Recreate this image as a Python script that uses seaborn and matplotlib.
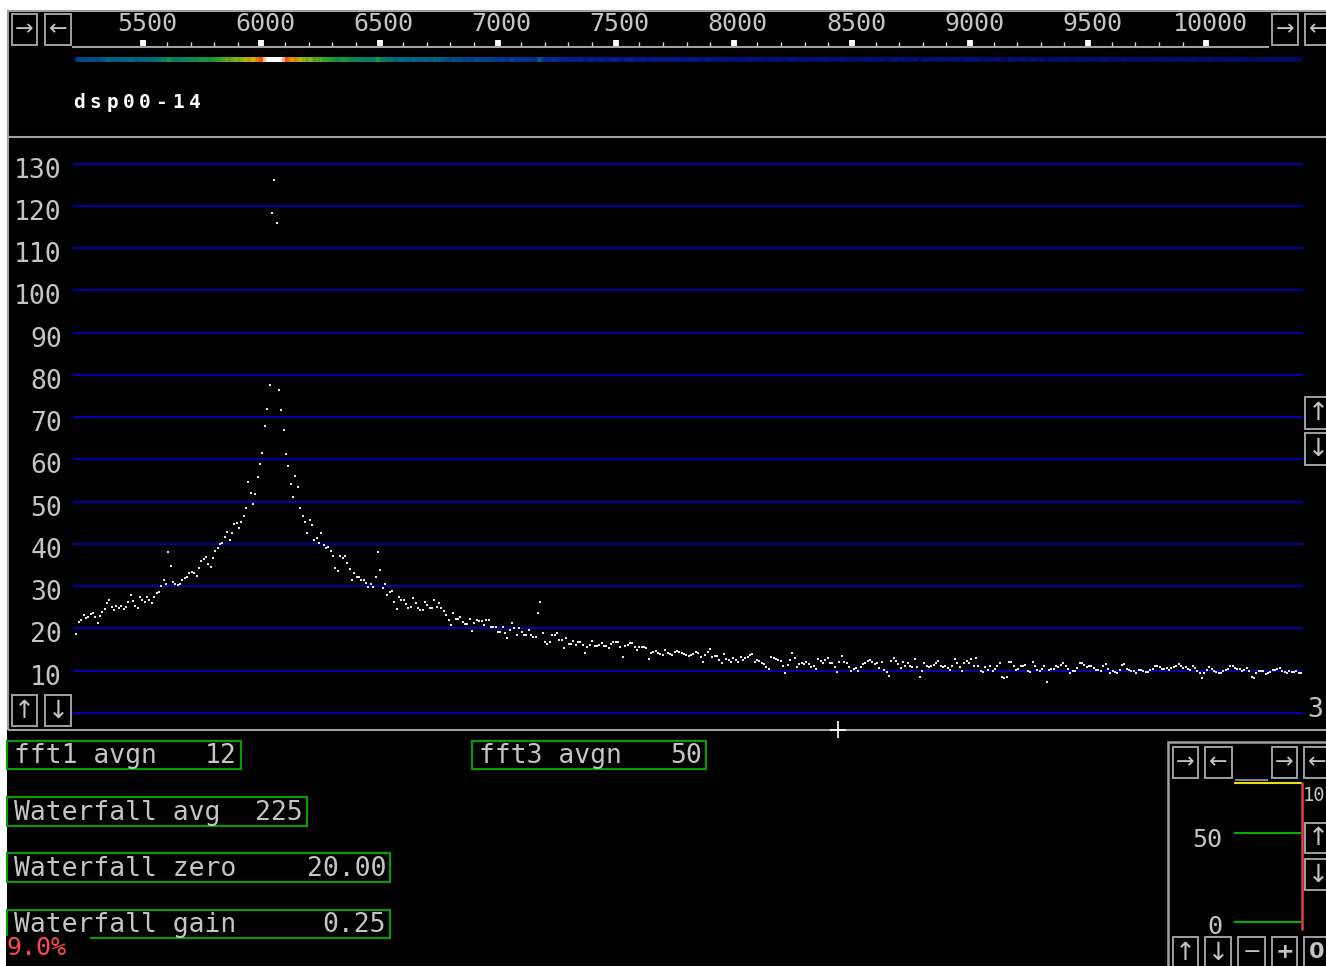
import numpy as np
import matplotlib
matplotlib.use("Agg")
import matplotlib.pyplot as plt
import matplotlib.transforms as mtransforms
from matplotlib.colors import LinearSegmentedColormap, Normalize
from matplotlib.lines import Line2D
from matplotlib.patches import Rectangle
from matplotlib.ticker import FixedLocator
import seaborn as sns

# ---------------------------------------------------------------------------
# Averaged spectrum (fft3), one value per FFT bin, in dB
# ---------------------------------------------------------------------------
BIN0_HZ = 5217.0
BIN_HZ = 9.97

db_lower_band = [
    18.7, 21.5, 22.0, 23.2, 22.4, 22.7, 23.5, 23.6, 22.8, 21.3,
    23.0, 23.9, 24.6, 26.0, 26.7, 25.0, 24.3, 25.2, 24.8, 25.3,
    24.6, 25.0, 26.2, 27.9, 26.5, 25.3, 24.8, 27.4, 26.7, 26.2,
    27.4, 26.8, 26.0, 27.5, 28.3, 28.6, 30.0, 31.4, 30.6, 38.0,
    34.7, 31.0, 30.6, 30.2, 30.4, 31.4, 32.0, 32.2, 33.0, 33.4,
    33.0, 32.3, 34.3, 36.0, 36.4, 37.0, 35.2, 34.5, 36.6, 38.4,
    39.0, 40.0, 40.2, 41.6, 42.8, 40.9, 42.5, 44.6, 45.0, 43.7,
    45.2, 46.5, 48.4, 54.6, 52.0, 49.4, 51.7, 55.8, 58.8, 61.6,
]
db_peak = [67.8, 72.0, 77.7, 118.4, 126.0, 116.0, 76.3, 71.6, 66.9]
db_shoulder = [
    61.2, 58.4, 54.1, 51.0, 56.0, 53.4, 48.4, 46.5, 45.1, 42.5,
    45.6, 44.4, 40.9, 41.5, 40.2, 42.5, 39.7, 39.0, 39.2, 38.3,
    37.1, 34.3, 33.5, 37.1, 36.6, 37.1, 35.4, 34.0, 31.4, 33.1,
    32.1, 32.1, 31.4, 31.4, 30.8, 29.8, 30.5, 29.8, 32.1, 38.0,
    33.8, 29.5, 30.5, 27.9, 28.6, 28.8, 26.2, 24.6, 27.4, 26.7,
    26.7, 25.8, 24.8, 25.0, 27.2, 26.0, 24.8, 24.3, 24.3, 26.2,
    25.5, 24.8, 24.8, 26.7, 25.0, 26.0, 24.8, 24.1, 23.2, 22.0,
    20.8, 23.6, 22.2, 22.2, 22.7, 21.5, 21.0, 21.0, 22.2, 19.4,
    21.3, 22.0, 21.7, 21.7, 20.8, 22.0, 22.0, 20.3, 20.3, 20.3,
    19.1, 19.1, 20.3, 18.9, 17.7, 19.6, 21.3, 20.0, 18.4, 20.0,
    19.2, 18.4, 18.4, 19.6, 18.4, 18.0, 18.0, 23.6, 26.2, 18.9,
    16.8, 16.3, 16.8, 18.4, 18.4, 18.9, 17.2, 17.2, 15.4, 17.7,
    16.3, 16.3, 17.0, 16.1, 16.8, 16.8, 16.1, 14.2, 15.6, 16.1,
    17.0, 15.8, 15.8,
]
db_slope = [
    16.1, 16.5, 15.8, 15.8, 15.4, 16.2, 16.8, 16.8, 16.8, 15.6,
    13.2, 15.8, 16.1, 16.5, 16.5, 15.6, 14.9, 15.6, 15.6, 15.6,
    15.4, 12.8, 14.2, 14.4, 14.6, 14.2, 13.9, 13.7, 14.9, 14.2,
    13.9, 13.7, 14.4, 14.6, 14.4, 14.2, 13.9, 13.7, 13.5, 13.7,
    14.0, 14.4, 14.2, 13.2, 12.0, 13.8, 14.4, 15.1, 13.2, 13.4,
    13.5, 12.6, 11.8, 13.9, 12.8, 12.4, 12.0, 13.0, 12.4, 12.0,
    13.2, 12.5, 13.0, 13.2, 13.6, 13.9, 12.0, 12.5, 12.2, 11.8,
    11.6, 10.9, 10.4, 13.2, 12.9, 12.8, 12.5, 12.3, 11.0, 9.4,
    11.3, 12.5, 14.2, 13.0, 10.9, 11.5, 11.8, 11.5, 12.0, 11.5,
    10.9, 11.2, 10.4, 12.8, 12.3, 11.8, 12.4, 13.0,
]
db_floor = [
    11.7, 11.7, 10.9, 9.6, 12.0, 13.5, 12.0, 11.7, 10.9, 9.9,
    10.4, 10.7, 9.9, 10.9, 11.5, 11.7, 12.3, 12.5, 12.0, 11.5,
    11.7, 10.7, 12.0, 10.2, 9.6, 8.8, 12.3, 13.0, 12.2, 11.5,
    10.7, 12.0, 11.2, 11.7, 11.2, 10.9, 12.7, 10.9, 8.6, 9.9,
    11.7, 11.2, 10.9, 11.0, 11.4, 11.7, 12.3, 11.2, 10.9, 11.2,
    10.7, 10.2, 11.2, 12.7, 11.7, 10.9, 9.9, 11.7, 12.3, 11.9,
    12.7, 11.2, 13.0, 11.2, 9.9, 9.6, 10.9, 10.2, 11.2, 9.9,
    10.5, 11.2, 11.7, 8.6, 8.2, 8.5, 12.0, 12.0, 11.2, 10.2,
    10.4, 11.2, 11.2, 11.4, 9.9, 9.6, 12.0, 11.2, 10.2, 9.9,
    10.4, 11.0, 7.3, 10.2, 10.4, 10.4, 11.2, 10.9, 11.4, 11.7,
    11.2, 10.5, 9.4, 9.9, 9.9, 10.6, 11.7, 11.7, 11.4, 10.9,
    11.2, 11.0, 10.7, 10.2, 10.1, 9.9, 11.2, 11.6, 10.4, 9.4,
    9.8, 9.6, 9.5, 10.1, 11.4, 11.5, 10.5, 10.2, 9.9, 9.8,
    9.4, 10.2, 10.2, 9.8, 9.6, 9.7, 10.1, 10.5, 11.0, 11.1,
    10.9, 10.4, 10.5, 10.6, 10.2, 10.7, 10.9, 11.2, 11.5, 11.0,
    10.7, 10.9, 10.5, 10.1, 11.2, 10.6, 9.9, 9.4, 8.3, 9.4,
    10.1, 10.9, 10.4, 10.0, 9.7, 9.4, 9.5, 9.8, 10.1, 10.4,
    11.0, 11.1, 10.6, 10.4, 10.4, 10.0, 10.2, 10.6, 9.8, 8.6,
    8.2, 9.4, 10.0, 9.9, 9.8, 9.2, 9.5, 9.7, 10.1, 10.1,
    10.5, 10.6, 9.9, 9.6, 9.4, 9.8, 9.6, 9.6, 9.8, 9.4, 9.5,
]

# frequency scale and level grid
scale_major_hz = list(range(5500, 10001, 500))
scale_minor_hz = [f for f in range(5600, 10000, 100) if f % 500]
db_levels = list(range(0, 131, 10))

# parameter read-outs
param_labels = ["fft1 avgn", "fft3 avgn", "Waterfall avg", "Waterfall zero", "Waterfall gain"]
param_values = ["12", "50", "225", "20.00", "0.25"]
cpu_load = "9.0%"
device_name = "dsp00-14"

# small meter panel
meter_labels = ["10", "50", "0"]

db = np.array(db_lower_band + db_peak + db_shoulder + db_slope + db_floor)
freq = BIN0_HZ + BIN_HZ * np.arange(len(db))

# ---------------------------------------------------------------------------
# Figure geometry (pixel based, 100 dpi)
# ---------------------------------------------------------------------------
W, H = 1326, 966
PX_PER_HZ = 0.2362
X_5500 = 143.3
Y_ZERO_PX = 712.9
PX_PER_DB = 4.226

GRAY = "#a0a0a0"
TEXT_GRAY = "#c4c4c4"
GRID_BLUE = "#0000a8"
BOX_GREEN = "#00a000"


def hz_at(xpx):
    return 5500 + (xpx - X_5500) / PX_PER_HZ


sns.set_theme(style="dark", rc={"axes.facecolor": "black",
                                "figure.facecolor": "white",
                                "axes.edgecolor": "black"})
plt.rcParams["font.family"] = ["DejaVu Sans Mono", "DejaVu Sans"]

fig = plt.figure(figsize=(W / 100, H / 100), dpi=100, facecolor="white")


def fx(x):
    return x / W


def fy(y):
    return 1 - y / H


def axes_px(x0, y0, x1, y1):
    return fig.add_axes([x0 / W, 1 - y1 / H, (x1 - x0) / W, (y1 - y0) / H])


def seg(x0, y0, x1, y1, color=GRAY, lw=1.5, z=5):
    fig.add_artist(Line2D([fx(x0), fx(x1)], [fy(y0), fy(y1)],
                          transform=fig.transFigure, color=color, lw=lw,
                          zorder=z, solid_capstyle="butt"))


def rect(x0, y0, x1, y1, ec=GRAY, fc="none", lw=1.5, z=5):
    fig.add_artist(Rectangle((fx(x0), fy(y1)), (x1 - x0) / W, (y1 - y0) / H,
                             transform=fig.transFigure, ec=ec, fc=fc, lw=lw,
                             zorder=z))


def button(x0, y0, x1, y1, glyph, size=15, weight="normal"):
    rect(x0, y0, x1, y1, ec=GRAY, fc="black", lw=1.4, z=6)
    fig.text(fx((x0 + x1) / 2), fy((y0 + y1) / 2), glyph, color=TEXT_GRAY,
             ha="center", va="center", fontsize=size, fontweight=weight,
             family=["DejaVu Sans"], zorder=7)


def label(x, y, s, ha="left", color=TEXT_GRAY, size=19, va="baseline", **kw):
    fig.text(fx(x), fy(y), s, color=color, ha=ha, va=va, fontsize=size,
             zorder=7, **kw)


# black window background and frame
rect(7, 10, 1330, 970, ec="none", fc="black", lw=0, z=-10)
seg(7, 11, 1326, 11)
seg(8, 10, 8, 730)
seg(8, 137, 1326, 137)
seg(8, 729.5, 1326, 729.5)

# ---------------------------------------------------------------------------
# Frequency scale
# ---------------------------------------------------------------------------
ax_sc = axes_px(73, 38, 1268, 47)
ax_sc.set_facecolor("none")
ax_sc.set_xlim(hz_at(73), hz_at(1268))
ax_sc.set_ylim(0, 1)
ax_sc.set_yticks([])
ax_sc.xaxis.set_major_locator(FixedLocator(scale_major_hz))
ax_sc.xaxis.set_minor_locator(FixedLocator(scale_minor_hz))
ax_sc.set_xticklabels([str(v) for v in scale_major_hz])
for side in ("top", "left", "right"):
    ax_sc.spines[side].set_visible(False)
ax_sc.spines["bottom"].set_color(GRAY)
ax_sc.spines["bottom"].set_linewidth(1.5)
ax_sc.tick_params(axis="x", which="major", direction="in", length=5.2,
                  width=4.2, color="white", bottom=True, top=False,
                  labelbottom=False, labeltop=True, pad=1.5,
                  labelcolor=TEXT_GRAY, labelsize=18)
ax_sc.tick_params(axis="x", which="minor", direction="in", length=3.8,
                  width=1.0, color="#e0e0e0", bottom=True, top=False)
shift = mtransforms.ScaledTranslation(0.04, 0, fig.dpi_scale_trans)
for t in ax_sc.get_xticklabels():
    t.set_transform(t.get_transform() + shift)
ax_sc.grid(False)

# waterfall line, coloured from the same spectrum
wf_cmap = LinearSegmentedColormap.from_list(
    "wf", ["#000030", "#001890", "#006a80", "#209a30", "#c0c000", "#ff4000", "#ffffff"])
ax_wf = axes_px(73, 56.5, 1302, 62)
ax_wf.imshow(db[None, :], aspect="auto", cmap=wf_cmap, norm=Normalize(4, 72),
             extent=(freq[0] - BIN_HZ / 2, freq[-1] + BIN_HZ / 2, 0, 1),
             interpolation="nearest")
ax_wf.set_xlim(hz_at(73), hz_at(1302))
ax_wf.set_ylim(0, 1)
ax_wf.axis("off")

# device name with wide character cells
for i, ch in enumerate(device_name):
    label(79 + i * 16.5, 108, ch, ha="center", color="white", size=14,
          fontweight="bold")

# ---------------------------------------------------------------------------
# Spectrum
# ---------------------------------------------------------------------------
ax = axes_px(73, 140, 1303, 728)
ax.set_facecolor("black")
ax.set_xlim(hz_at(73), hz_at(1303))
ax.set_ylim((Y_ZERO_PX - 728) / PX_PER_DB, (Y_ZERO_PX - 140) / PX_PER_DB)
ax.set_xticks([])
ax.set_yticks(db_levels)
ax.set_yticklabels(["" if v == 0 else str(v) for v in db_levels])
ax.tick_params(axis="y", length=0, pad=8, labelcolor=TEXT_GRAY, labelsize=19)
yshift = mtransforms.ScaledTranslation(0, -0.04, fig.dpi_scale_trans)
for t in ax.get_yticklabels():
    t.set_transform(t.get_transform() + yshift)
ax.grid(axis="y", color=GRID_BLUE, lw=1.5)
ax.grid(axis="x", visible=False)
for s in ax.spines.values():
    s.set_visible(False)

sns.scatterplot(x=freq, y=db, ax=ax, color="#e8e8e8", s=4.0, marker="s",
                linewidth=0, legend=False, zorder=3)
ax.set_xlabel("")
ax.set_ylabel("")

# window buttons
button(12, 14, 37, 45, "→", size=16)
button(45, 14, 71, 45, "←", size=16)
button(1272, 14, 1298, 45, "→", size=16)
button(1305, 14, 1331, 45, "←", size=16)
button(12, 695, 37, 726, "↑", size=18)
button(45, 695, 71, 726, "↓", size=18)
button(1305, 397, 1331, 429, "↑", size=18)
button(1305, 433, 1331, 465, "↓", size=18)
label(1315, 717, "3", ha="center")

# frequency cursor
seg(830, 729.5, 846, 729.5, color="white", lw=1.2, z=8)
seg(838, 721, 838, 738, color="white", lw=1.2, z=8)

# ---------------------------------------------------------------------------
# Parameter boxes
# ---------------------------------------------------------------------------
boxes = [(7, 741, 241, 769), (472, 741, 706, 769), (7, 797, 307, 826),
         (7, 853, 390, 882), (7, 910, 390, 938)]
for (x0, y0, x1, y1), name, val in zip(boxes, param_labels, param_values):
    rect(x0, y0, x1, y1, ec=BOX_GREEN, lw=1.5, z=5)
    label(x0 + 7, y1 - 6, name)
    label(x1 - 4, y1 - 6, val, ha="right")
rect(6, 936, 90, 966, ec="none", fc="black", lw=0, z=6)
label(7, 955, cpu_load, color="#ff4a4a", size=18)

# ---------------------------------------------------------------------------
# Small meter panel
# ---------------------------------------------------------------------------
rect(1168, 742, 1335, 975, ec=GRAY, fc="black", lw=1.8, z=4)
button(1173, 747, 1198, 778, "→", size=16)
button(1205, 747, 1232, 778, "←", size=16)
button(1272, 747, 1297, 778, "→", size=16)
button(1304, 747, 1330, 778, "←", size=16)
seg(1235, 779.5, 1268, 779.5, color=GRAY, lw=1.2)
seg(1234, 782.5, 1302, 782.5, color="#e8e000", lw=1.5, z=6)
seg(1234, 833.3, 1301, 833.3, color="#00b000", lw=1.5, z=6)
seg(1234, 921.7, 1301, 921.7, color="#00b000", lw=1.5, z=6)
seg(1302, 782, 1302, 930, color="#e04040", lw=1.8, z=6)
label(1303, 801, meter_labels[0], size=13.5)
label(1222, 847, meter_labels[1], ha="right", size=18)
label(1222, 934, meter_labels[2], ha="right", size=18)
button(1305, 823, 1331, 853, "↑", size=18)
button(1305, 859, 1331, 890, "↓", size=18)
button(1173, 937, 1198, 968, "↑", size=18)
button(1205, 937, 1231, 968, "↓", size=18)
button(1238, 937, 1265, 968, "−", size=16)
button(1272, 937, 1297, 968, "+", size=16, weight="bold")
button(1304, 937, 1330, 968, "0", size=16, weight="bold")

fig.savefig("out.png", dpi=100, facecolor="white")
